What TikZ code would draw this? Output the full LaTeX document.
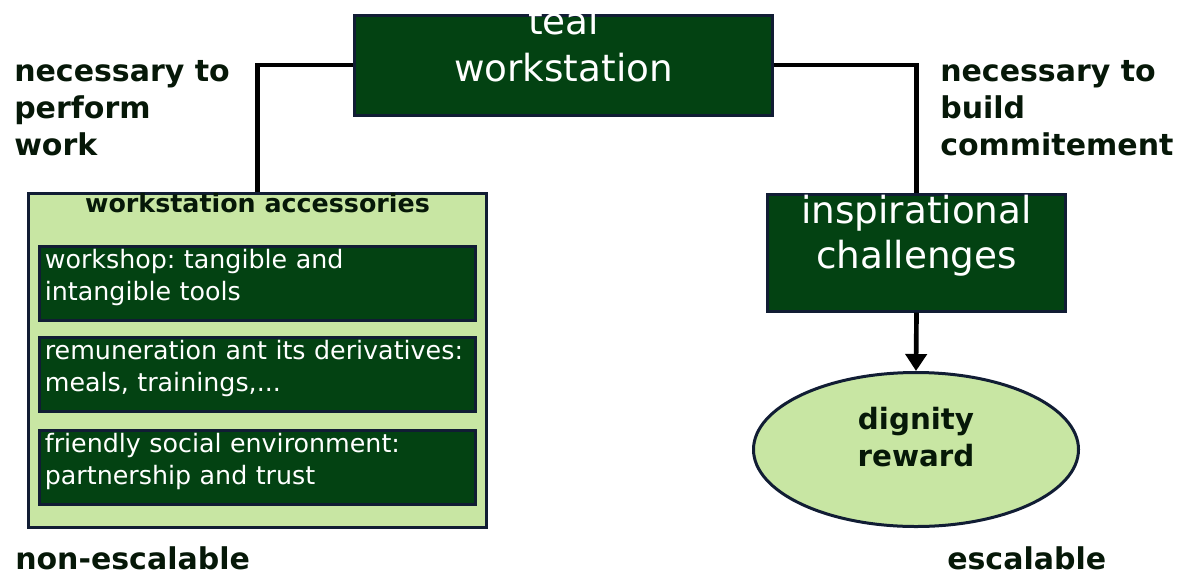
\documentclass[tikz,border=0pt]{standalone}
\usepackage{fontspec}
\setmainfont{DejaVu Sans}
\usepackage{tikz}
\usetikzlibrary{arrows.meta}
\usetikzlibrary{shapes.geometric}
\definecolor{tnavy}  {RGB}{17,29,52}
\definecolor{tgreen} {RGB}{3,66,18}
\definecolor{lgreen} {RGB}{200,230,163}
\definecolor{tdark}  {RGB}{6,24,8}
\frenchspacing
\tikzset{
    darkbox/.style={draw=tnavy, line width=2.25pt, fill=tgreen, text=white,
             inner sep=0pt, align=center, anchor=north},
    lightbox/.style={draw=tnavy, line width=2.25pt, fill=lgreen, text=tdark,
             inner sep=0pt, align=center, anchor=north},
    itembox/.style={draw=tnavy, line width=2.25pt, fill=tgreen, text=white,
             inner xsep=4pt, inner ysep=0pt, text width=319pt, align=left, anchor=north,
             text height=16.9pt, text depth=38.6pt, font=\fontsize{19}{23.6}\selectfont
    },
    tag/.style={text=tdark, inner sep=0pt, anchor=base west, align=left,
             font=\bfseries\fontsize{22.5}{27.75}\selectfont},
    link/.style={draw=black, line width=3.5pt},
    arrowlink/.style={link, -{Triangle[width=15.75pt,length=12.75pt]}}
  }
\begin{document}
\begin{tikzpicture}[x=0.75pt, y=-0.75pt]
  \useasboundingbox (0,0) rectangle (1181,576);
  %Top box
      \node[darkbox, minimum width=313.5pt, text height=49.9pt, text depth=25.1pt,
            font=\fontsize{28}{35.25}\selectfont] (teal) at (563.5,13.5) {teal\\workstation};
  %Left branch
      \node[lightbox, minimum width=343.5pt, text height=14.6pt, text depth=235.9pt,
            font=\bfseries\fontsize{19}{23}\selectfont] (acc) at (257.5,191.5) {workstation accessories};
      \node[itembox] (tools) at (257.5,244.5) {workshop: tangible and\\intangible tools};
      \node[itembox] (pay) at (257.5,335.5) {remuneration ant its derivatives:\\meals, trainings,...};
      \node[itembox] (social) at (257.5,428.5) {friendly social environment:\\partnership and trust};
  %Right branch
      \node[darkbox, minimum width=223.5pt, text height=55.9pt, text depth=31.9pt,
            font=\fontsize{28}{33.75}\selectfont] (insp) at (916.5,192.5) {inspirational\\challenges};
      \node[ellipse, draw=tnavy, line width=2.25pt, fill=lgreen, text=tdark, inner sep=0pt,
            minimum width=243.75pt, minimum height=115.5pt, align=center,
            text height=30pt, text depth=5.25pt,
            font=\bfseries\fontsize{22}{27.75}\selectfont] (dig) at (916,449.5) {dignity\\reward};
  %Labels
      \node[tag] (perform) at (14,155) {necessary to\\perform\\work};
      \node[tag] (commit) at (940,155) {necessary to\\build\\commitement};
      \node[tag] (nonesc) at (15,569) {non-escalable};
      \node[tag] (esc) at (947,569) {escalable};
  %Connectors
      \draw[link] (teal.west) -| (acc.north);
      \draw[link] (teal.east) -| (insp.north);
      \draw[arrowlink] (insp.south) -- (dig.north);
\end{tikzpicture}
\end{document}
